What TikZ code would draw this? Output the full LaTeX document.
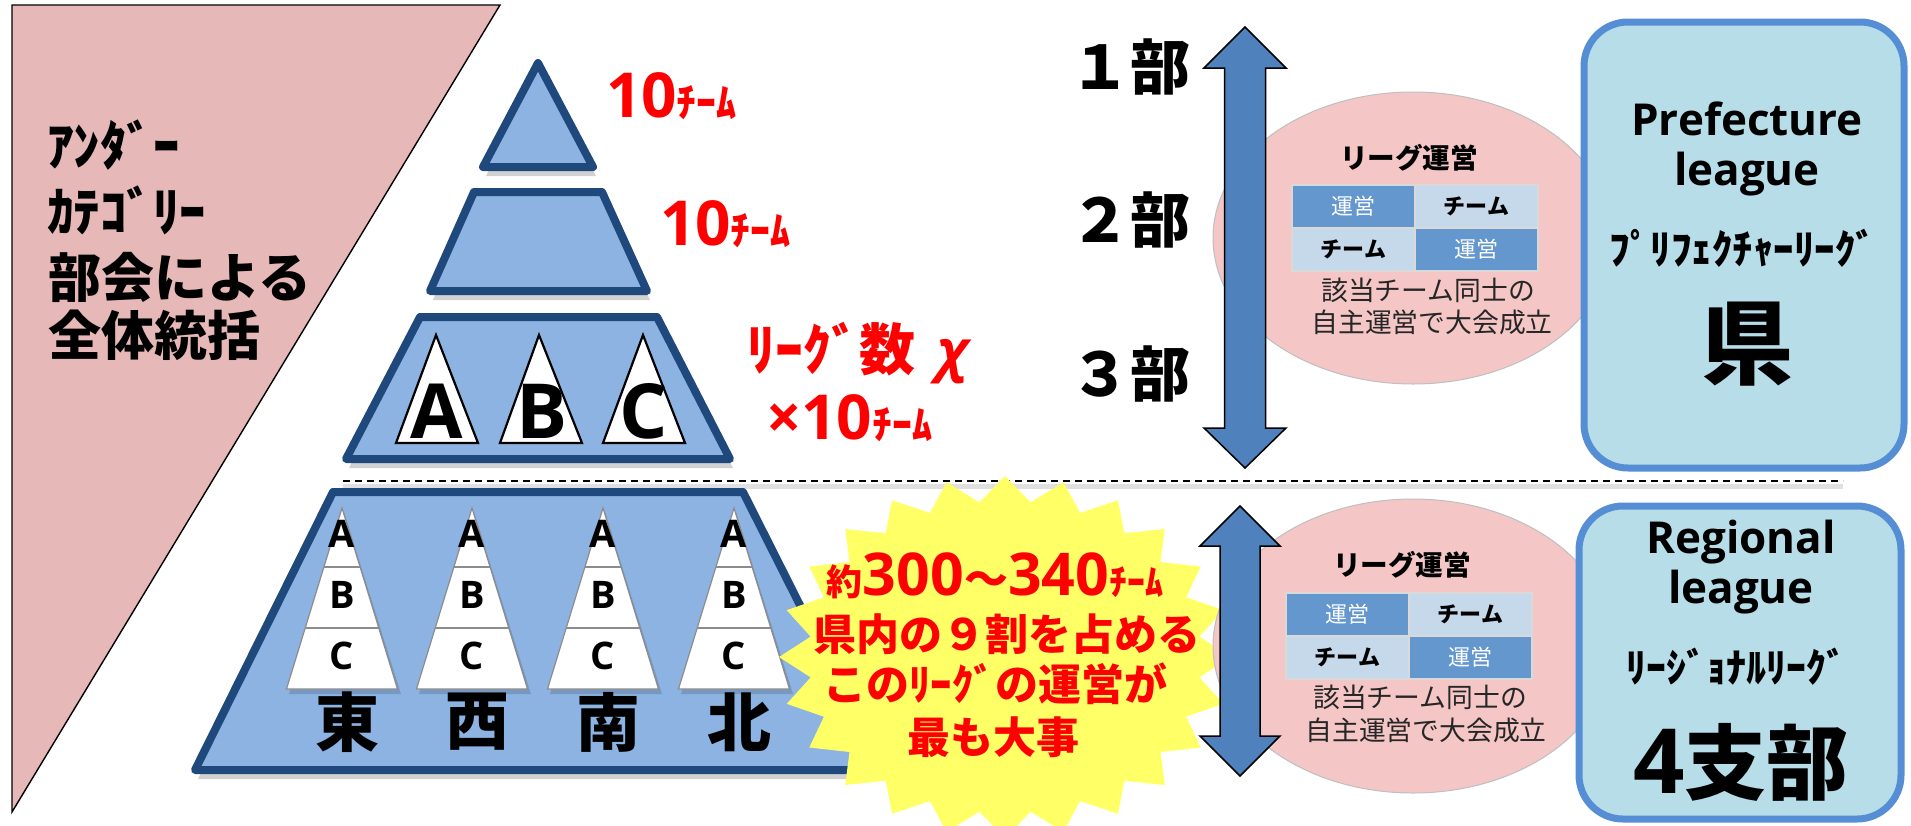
\documentclass[tikz,border=0pt]{standalone}
\usepackage{fontspec}
\newfontfamily\jp{Noto Sans CJK JP}
\newfontfamily\en{Open Sans}
\newcommand\fsz[1]{\fontsize{#1pt}{#1pt}\selectfont}
\definecolor{pinkbg}{HTML}{E6B9B8}
\definecolor{pyrfill}{HTML}{8DB3E2}
\definecolor{pyrline}{HTML}{1F497D}
\definecolor{redtxt}{HTML}{FF0000}
\definecolor{staryel}{HTML}{FFFF66}
\definecolor{arrblue}{HTML}{4F81BD}
\definecolor{ellpink}{HTML}{F4C7C6}
\definecolor{celldark}{HTML}{6397CD}
\definecolor{celllight}{HTML}{C6D9EB}
\definecolor{boxfill}{HTML}{B7DDE8}
\definecolor{boxline}{HTML}{558ED5}
\begin{document}
\begin{tikzpicture}[x=0.5pt,y=-0.5pt,
  every node/.style={inner sep=0pt, outer sep=0pt},
  pinkshape/.style={fill=pinkbg, draw=black, line width=0.7pt},
  pyr/.style={fill=pyrfill, draw=pyrline, line width=4pt, line join=round},
  pyrshadow/.style={fill=black, opacity=0.18},
  bigtri/.style={fill=white, draw=black, line width=1.1pt, line join=miter},
  smalltri/.style={fill=white, draw=black!45, line width=0.6pt},
  divline/.style={draw=black!45, line width=0.6pt},
  redlbl/.style={text=redtxt, font=\jp\bfseries},
  lefttxt/.style={anchor=west, font=\jp\bfseries},
  bigletter/.style={anchor=base, font=\en\bfseries\fsz{38}},
  smallletter/.style={anchor=base, font=\en\bfseries\fsz{19}},
  dirtxt/.style={font=\jp\bfseries\fsz{32}},
  startxt/.style={text=redtxt, font=\jp\bfseries\fsz{21.5}},
  dashln/.style={draw=black, line width=0.9pt, dash pattern=on 3.6pt off 2.4pt},
  dashshadow/.style={draw=black!12, line width=2.5pt},
  ellshape/.style={fill=ellpink, draw=black!25, line width=0.5pt},
  dblarrow/.style={fill=arrblue, draw=black, line width=0.75pt, line join=miter},
  bulabel/.style={font=\jp\bfseries\fsz{30}},
  elltitle/.style={font=\jp\bfseries\fsz{13.8}},
  cellD/.style={fill=celldark, draw=black!15, line width=0.6pt, minimum width=61.5pt, minimum height=21.5pt, text=white, font=\jp\fsz{11}},
  cellL/.style={fill=celllight, draw=black!15, line width=0.6pt, minimum width=61.5pt, minimum height=21.5pt, text=black, font=\jp\bfseries\fsz{11}},
  elltxt/.style={font=\jp\fsz{13.4}, text=black!85},
  boxst/.style={fill=boxfill, draw=boxline, line width=3.5pt, rounded corners=22pt},
  entxt/.style={anchor=base, font=\en\bfseries\fsz{22}},
  kanatxt/.style={font=\jp\bfseries\fsz{20.5}}
]
\useasboundingbox (0,0) rectangle (1911,825);
\fill[white] (0,0) rectangle (1911,825);

% left pink triangle
\draw[pinkshape] (12,5) -- (500,5) -- (12,812) -- cycle;
\node[lefttxt, font=\jp\bfseries\fsz{26.5}] (l1) at (47,145) {ｱﾝﾀﾞｰ};
\node[lefttxt, font=\jp\bfseries\fsz{26.5}] (l2) at (47,210) {ｶﾃｺﾞﾘｰ};
\node[lefttxt, font=\jp\bfseries\fsz{26.5}] (l3) at (48,277) {部会による};
\node[lefttxt, font=\jp\bfseries\fsz{26.5}] (l4) at (48,335) {全体統括};

% dashed separator
\coordinate (dashL) at (343,481);
\coordinate (dashR) at (1843,481);
\draw[dashshadow] ([yshift=-2.5pt]dashL) -- ([yshift=-2.5pt]dashR);
\draw[dashln] (dashL) -- (dashR);

% upper pyramid
\fill[pyrshadow] (539,71) -- (596,176) -- (486,176) -- cycle;
\draw[pyr] (538,63) -- (593,167) -- (483,167) -- cycle;
\fill[pyrshadow] (476,200) -- (604,200) -- (650,300) -- (433,300) -- cycle;
\draw[pyr] (474,192) -- (602,192) -- (647,291) -- (430,291) -- cycle;
\fill[pyrshadow] (422,325) -- (659,325) -- (733,468) -- (349,468) -- cycle;
\draw[pyr] (420,317) -- (657,317) -- (730,459) -- (346,459) -- cycle;
\draw[bigtri] (436,335) -- (478,443) -- (396,443) -- cycle;
\draw[bigtri] (539,335) -- (582,443) -- (500,443) -- cycle;
\draw[bigtri] (643,335) -- (685,443) -- (603,443) -- cycle;
\node[bigletter] (tA) at (437,438) {A};
\node[bigletter] (tB) at (542,438) {B};
\node[bigletter] (tC) at (644,438) {C};

% red labels
\node[redlbl, anchor=base west] (r1) at (606,117) {{\en\bfseries\fsz{31}10}{\fsz{20}ﾁｰﾑ}};
\node[redlbl, anchor=base west] (r2) at (660,245) {{\en\bfseries\fsz{31}10}{\fsz{20}ﾁｰﾑ}};
\node[redlbl, anchor=west, font=\jp\bfseries\fsz{28}] (r3) at (747,353) {ﾘｰｸﾞ数\kern 11pt{\en\bfseries\itshape χ}};
\node[redlbl, anchor=base west] (r4) at (766,439) {{\en\bfseries\fsz{31}×10}{\fsz{20}ﾁｰﾑ}};

% lower trapezoid
\fill[pyrshadow] (335,500) -- (745,500) -- (886,779) -- (198,779) -- cycle;
\draw[pyr] (333,492) -- (743,492) -- (883,770) -- (195,770) -- cycle;
\foreach \cx/\nm/\dir in {342/e/東, 472/w/西, 603/s/南, 734/n/北} {
  \fill[black, opacity=0.15] (\cx+2,512) -- (\cx+59,694) -- (\cx-53,694) -- cycle;
  \draw[smalltri] (\cx,508) -- (\cx+55.5,689) -- (\cx-55.5,689) -- cycle;
  \draw[divline] (\cx-18.1,567) -- (\cx+18.1,567);
  \draw[divline] (\cx-36.8,628) -- (\cx+36.8,628);
  \node[smallletter] (\nm A) at (\cx,547) {A};
  \node[smallletter] (\nm B) at (\cx,608) {B};
  \node[smallletter] (\nm C) at (\cx,669) {C};
  \node[dirtxt] (\nm D) at (\cx+5,722) {\dir};
}

% starburst
\foreach \k in {0,...,47} {
  \pgfmathsetmacro\sbrx{226 - 30*mod(\k,2)}
  \pgfmathsetmacro\sbry{181 - 25*mod(\k,2)}
  \pgfmathsetmacro\sbang{\k*7.5 - 90}
  \pgfmathsetmacro\sbpx{1005 + \sbrx*cos(\sbang)}
  \pgfmathsetmacro\sbpy{657 + \sbry*sin(\sbang)}
  \coordinate (sb\k) at (\sbpx,\sbpy);
}
\fill[staryel] (sb0) \foreach \k in {1,...,47} { -- (sb\k) } -- cycle;
\node[startxt, anchor=base] (s1) at (995,595) {{\fsz{18}約}{\en\bfseries\fsz{29.5}300}{\fsz{22}～}{\en\bfseries\fsz{29.5}340}{\fsz{18}ﾁｰﾑ}};
\node[startxt] (s2) at (1007,634) {県内の９割を占める};
\node[startxt] (s3) at (995,684) {このﾘｰｸﾞの運営が};
\node[startxt] (s4) at (993,737) {最も大事};

% ellipses with league management
\draw[ellshape] (1413,238) ellipse [x radius=200, y radius=146];
\node[elltitle] (t1) at (1409,158) {リーグ運営};
\node[cellD] (c11) at (1353.5,206.5) {運営};
\node[cellL] (c12) at (1476.5,206.5) {チーム};
\node[cellL] (c13) at (1353.5,249.5) {チーム};
\node[cellD] (c14) at (1476.5,249.5) {運営};
\node[elltxt] (e11) at (1428,290) {該当チーム同士の};
\node[elltxt] (e12) at (1432,322) {自主運営で大会成立};

\draw[ellshape] (1413,646) ellipse [x radius=200, y radius=147];
\node[elltitle] (t2) at (1402,565) {リーグ運営};
\node[cellD] (c21) at (1347.5,614.5) {運営};
\node[cellL] (c22) at (1470.5,614.5) {チーム};
\node[cellL] (c23) at (1347.5,657.5) {チーム};
\node[cellD] (c24) at (1470.5,657.5) {運営};
\node[elltxt] (e21) at (1420,697) {該当チーム同士の};
\node[elltxt] (e22) at (1426,730) {自主運営で大会成立};

% double arrows
\draw[dblarrow] (1245,27) -- (1286,68) -- (1265.5,68) -- (1265.5,428) -- (1286,428) -- (1245,468)
  -- (1204,428) -- (1224.5,428) -- (1224.5,68) -- (1204,68) -- cycle;
\draw[dblarrow] (1240,506) -- (1280,546) -- (1260,546) -- (1260,736) -- (1280,736) -- (1240,776)
  -- (1200,736) -- (1220,736) -- (1220,546) -- (1200,546) -- cycle;

% division labels
\node[bulabel] (b1) at (1130,67) {１部};
\node[bulabel] (b2) at (1130,220) {２部};
\node[bulabel] (b3) at (1130,374) {３部};

% right boxes
\draw[boxst] (1584,22) rectangle (1904,468);
\node[entxt] (p1) at (1747,135) {Prefecture};
\node[entxt] (p2) at (1747,185) {league};
\node[kanatxt] (p3) at (1743,248) {ﾌﾟﾘﾌｪｸﾁｬｰﾘｰｸﾞ};
\node[font=\jp\bfseries\fsz{46}] (p4) at (1747,344) {県};

\draw[boxst] (1579,506) rectangle (1901,819);
\node[entxt] (g1) at (1741,553) {Regional};
\node[entxt] (g2) at (1741,603) {league};
\node[kanatxt, font=\jp\bfseries\fsz{20}] (g3) at (1736,667) {ﾘｰｼﾞｮﾅﾙﾘｰｸﾞ};
\node[font=\jp\bfseries\fsz{41}] (g4) at (1741,762) {{\en\bfseries\fsz{45}4}支部};
\end{tikzpicture}
\end{document}
